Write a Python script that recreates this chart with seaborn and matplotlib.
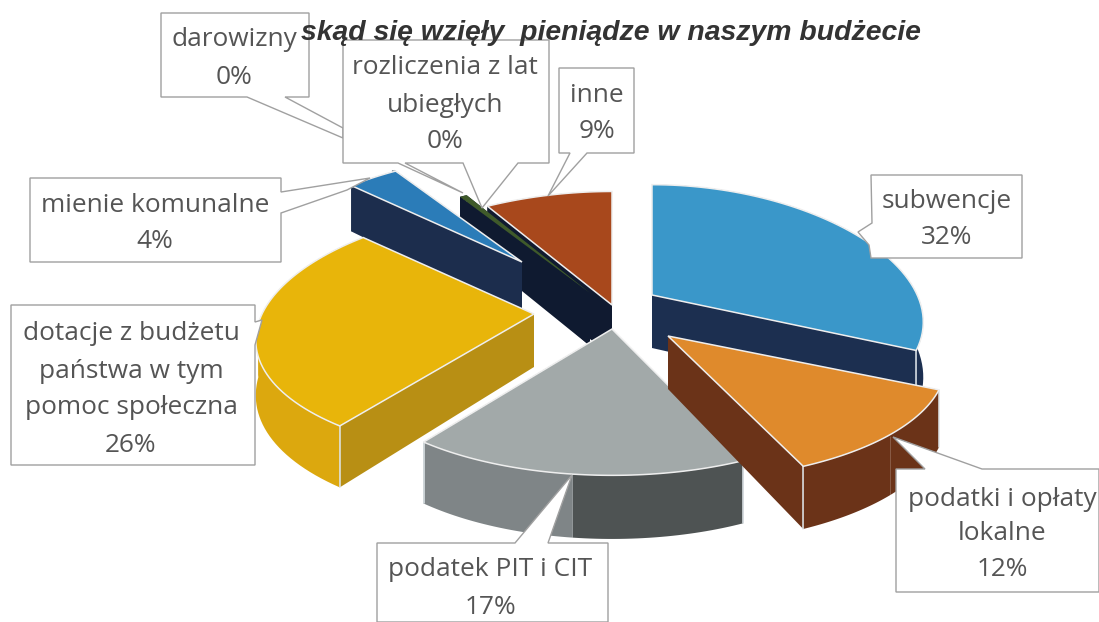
import numpy as np
import matplotlib
matplotlib.use("Agg")
import matplotlib.pyplot as plt
from matplotlib.patches import Polygon
import seaborn as sns

# chart data, clockwise from 12 o'clock
categories = ["subwencje", "podatki i opłaty\nlokalne", "podatek PIT i CIT",
              "dotacje z budżetu\npaństwa w tym\npomoc społeczna", "mienie komunalne",
              "darowizny", "rozliczenia z lat\nubiegłych", "inne"]
shares = [31.6, 11.6, 17.2, 26.4, 3.6, 0.2, 0.49, 8.91]

top_colors = ["#3a97c9", "#df8a2c", "#a2a9a9", "#e8b50a", "#2b7cb8", "#b9c4c7", "#3f5a2a", "#a8481c"]
side_colors = ["#1c2f50", "#6b3318", "#4e5353", "#b88f14", "#1c2d4d", "#1c2d4d", "#0f1a30", "#101a30"]
arc_colors = [("#1c2f50", "#1c2f50"), ("#6b3318", "#6b3318"), ("#4e5353", "#7f8587"),
              ("#dca80e", "#dca80e"), ("#1c2d4d", "#1c2d4d"), ("#1c2d4d", "#1c2d4d"),
              ("#0f1a30", "#0f1a30"), ("#101a30", "#101a30")]

# pie layout in pixels
center = (600, 315)
explode = [(52, -20), (68, 21), (12, 14), (-66, -1), (-78, -53), (-88, -58), (-10, -22), (12, -10)]
stretch = [(0.975, 1.03), (1, 1), (0.97, 1.01), (1, 1), (1, 1), (0.95, 0.95), (1.05, 1.05), (1.06, 1.06)]
draw_order = [7, 6, 5, 4, 0, 3, 2, 1]
RX, RY, DEPTH = 272, 126, 53

# callout outlines in pixels, label centre x and text line y positions
callouts = {
    0: ([(871, 175), (1022, 175), (1022, 258), (871, 258), (869, 245), (858, 232), (872, 223)], 947, [201, 238]),
    1: ([(896, 469), (925, 469), (893, 437), (982, 469), (1099, 469), (1099, 592), (896, 592)], 1002, [499, 534, 570]),
    2: ([(377, 543), (515, 543), (572, 475), (548, 543), (608, 543), (608, 622), (377, 622)], 490, [570, 607]),
    3: ([(11, 305), (255, 305), (255, 322), (262, 320), (255, 345), (255, 465), (11, 465)], 131, [333, 371, 408, 445]),
    4: ([(30, 178), (281, 178), (281, 192), (370, 178), (347, 190), (281, 213), (281, 262), (30, 262)], 155, [205, 242]),
    5: ([(161, 13), (309, 13), (309, 97), (285, 97), (343, 128), (343, 138), (247, 97), (161, 97)], 234, [40, 78]),
    6: ([(343, 40), (549, 40), (549, 163), (518, 163), (482, 208), (463, 163), (405, 163), (463, 193),
         (398, 163), (343, 163)], 445, [68, 105, 142]),
    7: ([(559, 68), (634, 68), (634, 153), (587, 153), (548, 196), (570, 153), (559, 153)], 597, [95, 132]),
}

sns.set_theme(style="white")
plt.rcParams["font.family"] = ["Open Sans", "DejaVu Sans"]
palette = sns.color_palette(top_colors)


def rim(theta):
    # perspective squeeze, back of the pie is smaller than the front
    u = -np.cos(theta)
    x = RX * np.sin(theta) * (1 + 0.22 * u)
    y = RY * u * (1 + 0.15 * u)
    return np.column_stack([x, y]), DEPTH * (1 + 0.2 * u), u


fig = plt.figure(figsize=(10.99, 6.22), dpi=100)
ax = fig.add_axes([0, 0, 1, 1])
ax.set_xlim(0, 1099)
ax.set_ylim(622, 0)
ax.axis("off")

edges = np.radians(np.concatenate([[0], np.cumsum(shares)]) * 3.6)

for i in draw_order:
    apex = np.array(center) + np.array(explode[i])
    theta = np.linspace(edges[i], edges[i + 1], 60)
    pts, dep, u = rim(theta)
    pts = pts * np.array(stretch[i]) + apex
    down = pts + np.column_stack([np.zeros(60), dep])

    faces = []
    for k in (0, -1):
        quad = [apex, pts[k], down[k], apex + [0, DEPTH]]
        faces.append((np.mean(quad, axis=0)[1], quad, side_colors[i]))
    half = 30
    faces.append((np.mean(down[:, 1]), np.vstack([pts[:half + 1], down[:half + 1][::-1]]), arc_colors[i][0]))
    faces.append((np.mean(down[:, 1]) + 1, np.vstack([pts[half:], down[half:][::-1]]), arc_colors[i][1]))
    for _, quad, col in sorted(faces, key=lambda f: f[0]):
        ax.add_patch(Polygon(np.array(quad), closed=True, facecolor=col, edgecolor="none", zorder=2))

    # light lines on the front corners, like the bevel in the original
    for k in (0, -1):
        if u[k] > 0:
            ax.plot([pts[k][0], down[k][0]], [pts[k][1], down[k][1]], color="#dfe6ea", lw=1.1, zorder=2)
    # thin slices would vanish under a light outline
    outline_w = 1.1 if shares[i] > 1 else 0
    ax.add_patch(Polygon(np.vstack([apex, pts]), closed=True, facecolor=palette[i],
                         edgecolor="#eeeeee", lw=outline_w, zorder=2))

for i, (outline, cx, ys) in callouts.items():
    ax.add_patch(Polygon(outline, closed=True, facecolor="white", edgecolor="#a0a0a0", lw=1.0, zorder=3))
    lines = categories[i].split("\n") + [f"{round(shares[i])}%"]
    for line, y in zip(lines, ys):
        ax.text(cx, y, line, ha="center", va="center", fontsize=18.9, color="#555555", zorder=4)

ax.text(611, 33, "skąd się wzięły  pieniądze w naszym budżecie", ha="center", va="center",
        fontsize=20.4, fontweight="bold", fontstyle="italic", family="Liberation Sans",
        color="#333333", zorder=5)

fig.savefig("out.png", dpi=100)
